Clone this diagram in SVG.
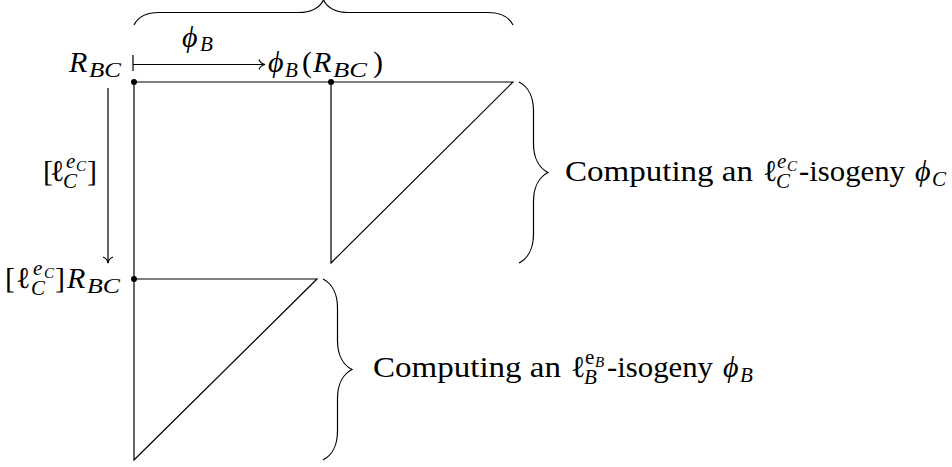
<svg xmlns="http://www.w3.org/2000/svg" width="952" height="467" viewBox="0 0 952 467">
  <style>
    .ln { fill: none; stroke: #000; stroke-width: 1.2; }
    .t { font-family: "Liberation Serif", "DejaVu Serif", serif; fill: #000; font-size: 30px; }
    .i { font-style: italic; }
    .u { font-style: normal; }
    .s { font-size: 21px; }
    .sb { font-size: 22px; }
    .ss { font-size: 15px; }
  </style>
  <defs>
    <marker id="to" viewBox="-8 -6 10 12" markerWidth="10" markerHeight="12" refX="0" refY="0" orient="auto" markerUnits="userSpaceOnUse">
      <path d="M-6,-5 C-5,-2 -2,-0.5 0,0 C-2,0.5 -5,2 -6,5" fill="none" stroke="#000" stroke-width="1.1"/>
    </marker>
  </defs>

  <rect width="952" height="467" fill="#fff"/>

  <!-- point R_BC -->
  <g id="r-bc">
    <text class="t i"><tspan x="69" y="72">R</tspan><tspan class="sb" x="89" y="77" textLength="32" lengthAdjust="spacingAndGlyphs">BC</tspan></text>
  </g>

  <!-- image of R_BC under phi_B -->
  <g id="phi-r-bc">
    <text class="t i"><tspan x="268" y="72">ϕ</tspan><tspan class="s" x="285" y="77">B</tspan><tspan class="u" x="302" y="72">(</tspan><tspan x="313" y="72">R</tspan><tspan class="sb" x="333" y="77" textLength="34" lengthAdjust="spacingAndGlyphs">BC</tspan><tspan class="u" x="373" y="72">)</tspan></text>
  </g>

  <!-- multiple of R_BC -->
  <g id="mult-r-bc">
    <text class="t"><tspan x="5" y="288">[</tspan><tspan x="16" y="288">ℓ</tspan><tspan class="i s" x="33" y="275">e</tspan><tspan class="i ss" x="44" y="278">C</tspan><tspan class="i s" x="31" y="295">C</tspan><tspan x="55" y="288">]</tspan><tspan class="i" x="67" y="288">R</tspan><tspan class="i sb" x="87" y="293" textLength="33" lengthAdjust="spacingAndGlyphs">BC</tspan></text>
  </g>

  <!-- strategy tree -->
  <g id="tree">
    <path class="ln" d="M134,82 H513 L331,263 V82"/>
    <path class="ln" d="M134,82 V460 L317,279 H134"/>
    <circle cx="134" cy="82" r="3"/>
    <circle cx="331" cy="82" r="3"/>
    <circle cx="134" cy="279" r="3"/>
  </g>

  <!-- braces -->
  <g id="brace-top">
    <path class="ln" d="M134,25 C137.75,17.5 146.5,12.5 159,12.5 L298.5,12.5 C311,12.5 319.75,7.5 323.5,0 C327.25,7.5 336,12.5 348.5,12.5 L488,12.5 C500.5,12.5 509.25,17.5 513,25"/>
  </g>
  <g id="brace-c">
    <path class="ln" d="M519,82 C527.7,86.35 533.5,96.5 533.5,111 L533.5,143.5 C533.5,158 539.3,168.15 548,172.5 C539.3,176.85 533.5,187 533.5,201.5 L533.5,234 C533.5,248.5 527.7,258.65 519,263"/>
  </g>
  <g id="brace-b">
    <path class="ln" d="M323,279 C331.7,283.35 337.5,293.5 337.5,308 L337.5,340.5 C337.5,355 343.3,365.15 352,369.5 C343.3,373.85 337.5,384 337.5,398.5 L337.5,431 C337.5,445.5 331.7,455.65 323,460"/>
  </g>

  <!-- brace labels -->
  <g id="label-c">
    <text class="t"><tspan x="565" y="181" textLength="188" lengthAdjust="spacingAndGlyphs">Computing an</tspan><tspan x="763" y="181">ℓ</tspan><tspan class="i s" x="777" y="168">e</tspan><tspan class="i ss" x="787" y="171">C</tspan><tspan class="i s" x="776" y="188">C</tspan><tspan x="799" y="181" textLength="106" lengthAdjust="spacingAndGlyphs">-isogeny</tspan><tspan class="i" x="915" y="181">ϕ</tspan><tspan class="i s" x="932" y="186">C</tspan></text>
  </g>
  <g id="label-b">
    <text class="t"><tspan x="373" y="377" textLength="188" lengthAdjust="spacingAndGlyphs">Computing an</tspan><tspan x="571" y="377">ℓ</tspan><tspan class="s" x="585" y="364">e</tspan><tspan class="i ss" x="595" y="367">B</tspan><tspan class="i s" x="584" y="384">B</tspan><tspan x="607" y="377" textLength="106" lengthAdjust="spacingAndGlyphs">-isogeny</tspan><tspan class="i" x="723" y="377">ϕ</tspan><tspan class="i s" x="740" y="382">B</tspan></text>
  </g>

  <!-- connectors -->
  <g id="connectors">
    <path class="ln" d="M133,55 V71"/>
    <path class="ln" d="M133,64.5 H265" marker-end="url(#to)"/>
    <path class="ln" d="M108,88 V263" marker-end="url(#to)"/>
    <g id="label-phi-b">
      <text class="t i"><tspan x="182" y="47">ϕ</tspan><tspan class="s" x="200" y="51">B</tspan></text>
    </g>
    <g id="label-mult">
      <text class="t"><tspan x="43" y="181">[</tspan><tspan x="50" y="181">ℓ</tspan><tspan class="i s" x="66" y="168">e</tspan><tspan class="i ss" x="76" y="171">C</tspan><tspan class="i s" x="63" y="188">C</tspan><tspan x="87" y="181">]</tspan></text>
    </g>
  </g>
</svg>
